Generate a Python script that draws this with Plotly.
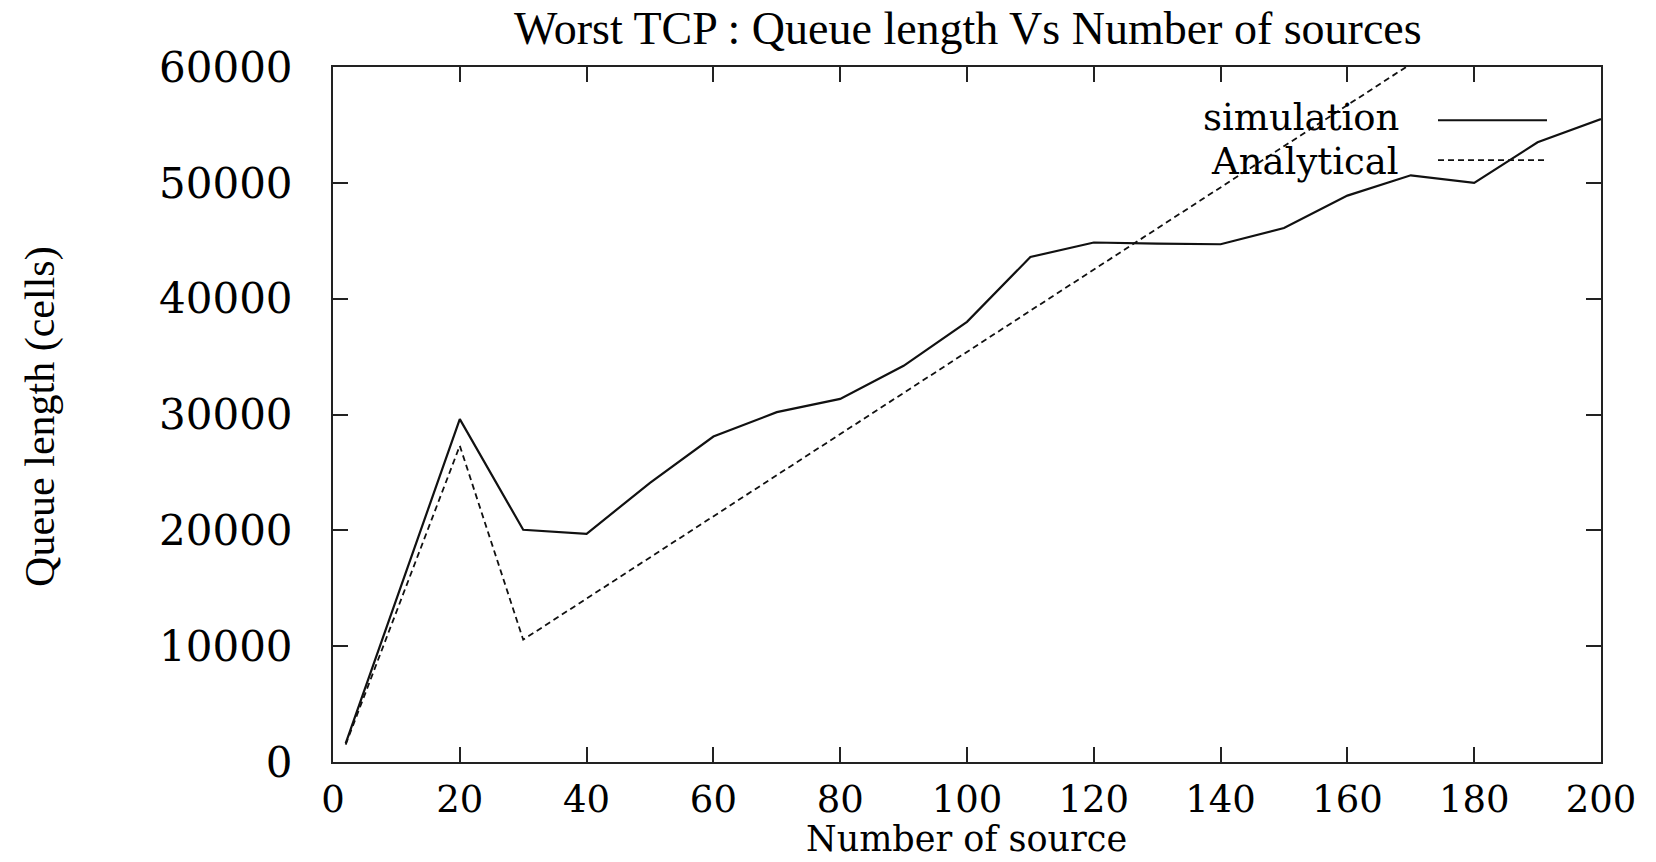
import plotly.graph_objects as go

# Data
sim_x = [2, 20, 30, 40, 50, 60, 70, 80, 90, 100, 110, 120, 130, 140, 150, 160, 170, 180, 190, 200]
sim_y = [1600, 29600, 20050, 19700, 24100, 28100, 30200, 31350, 34200, 38000, 43600,
         44850, 44750, 44700, 46100, 48900, 50650, 50000, 53500, 55500]

ana_x = [2, 20, 30, 40, 50, 60, 70, 80, 90, 100, 110, 120, 130, 140, 150, 160, 170, 180, 190, 200]
ana_y = [1500, 27300, 10560, 14110, 17660, 21210, 24760, 28310, 31860, 35410, 38960,
         42510, 46060, 49610, 53160, 56710, 60260, 63810, 67360, 70910]

x_ticks = [0, 20, 40, 60, 80, 100, 120, 140, 160, 180, 200]
y_ticks = [0, 10000, 20000, 30000, 40000, 50000, 60000]

title_text = "Worst TCP : Queue length Vs Number of sources"
x_title = "Number of source"
y_title = "Queue length (cells)"
series_names = ["simulation", "Analytical"]

W, H = 1656, 862
# plot box in window pixels: left 333, right 1600, top 66.7, bottom 762.5
ML = 333
MR = W - 1601
MT = 66.7
MB = H - 762.5
pw = W - ML - MR
ph = H - MT - MB

def px(xw):
    return (xw - ML) / pw

def py(yw):
    return (H - MB - yw) / ph

fig = go.Figure()
fig.add_trace(go.Scatter(x=sim_x, y=sim_y, mode="lines", name=series_names[0],
                         line=dict(color="#111111", width=2.2), showlegend=False))
fig.add_trace(go.Scatter(x=ana_x, y=ana_y, mode="lines", name=series_names[1],
                         line=dict(color="#111111", width=1.8, dash="6px,4px"), showlegend=False))

axis_common = dict(showgrid=False, zeroline=False, showline=True, linecolor="#222222",
                   linewidth=2, mirror="ticks", ticks="inside", ticklen=15, tickwidth=2,
                   tickcolor="#222222")

fig.update_xaxes(range=[0, 200], tickvals=x_ticks, ticktext=[str(v) for v in x_ticks],
                 tickfont=dict(family="DejaVu Serif", size=37, color="black"),
                 ticklabelstandoff=4, **axis_common)
fig.update_yaxes(range=[0, 60000], tickvals=y_ticks, ticktext=[str(v) for v in y_ticks],
                 tickfont=dict(family="DejaVu Serif", size=42, color="black"),
                 ticklabelstandoff=30, **axis_common)

legend_font = dict(family="DejaVu Serif", size=37, color="black")
annotations = [
    dict(text=title_text, xref="paper", yref="paper", x=px(968), y=py(28), xanchor="center",
         yanchor="middle", showarrow=False, font=dict(family="Liberation Serif", size=46, color="black")),
    dict(text=x_title, xref="paper", yref="paper", x=px(966), y=py(840), xanchor="center",
         yanchor="middle", showarrow=False, font=dict(family="DejaVu Serif", size=35, color="black")),
    dict(text=y_title, xref="paper", yref="paper", x=px(41), y=py(417),
         xanchor="center", yanchor="middle", textangle=-90, showarrow=False,
         font=dict(family="Liberation Serif", size=42, color="black")),
    dict(text=series_names[0], xref="paper", yref="paper", x=px(1401), y=py(117),
         xanchor="right", yanchor="middle", showarrow=False, font=legend_font),
    dict(text=series_names[1], xref="paper", yref="paper", x=px(1401), y=py(161),
         xanchor="right", yanchor="middle", showarrow=False, font=legend_font),
]

shapes = [
    dict(type="line", xref="paper", yref="paper", x0=px(1438), x1=px(1547),
         y0=py(120), y1=py(120), line=dict(color="#111111", width=2.2)),
    dict(type="line", xref="paper", yref="paper", x0=px(1438), x1=px(1547),
         y0=py(160), y1=py(160), line=dict(color="#111111", width=1.8, dash="6px,4px")),
]

fig.update_layout(width=W, height=H, margin=dict(l=ML, r=MR, t=MT, b=MB, pad=0),
                  paper_bgcolor="white", plot_bgcolor="white",
                  annotations=annotations, shapes=shapes, showlegend=False)

# remove the default 8px page margin so the figure fills the window exactly
fig.write_html("out.html", config={"displayModeBar": False},
               post_script="document.body.style.margin='0';document.body.style.overflow='hidden';")
